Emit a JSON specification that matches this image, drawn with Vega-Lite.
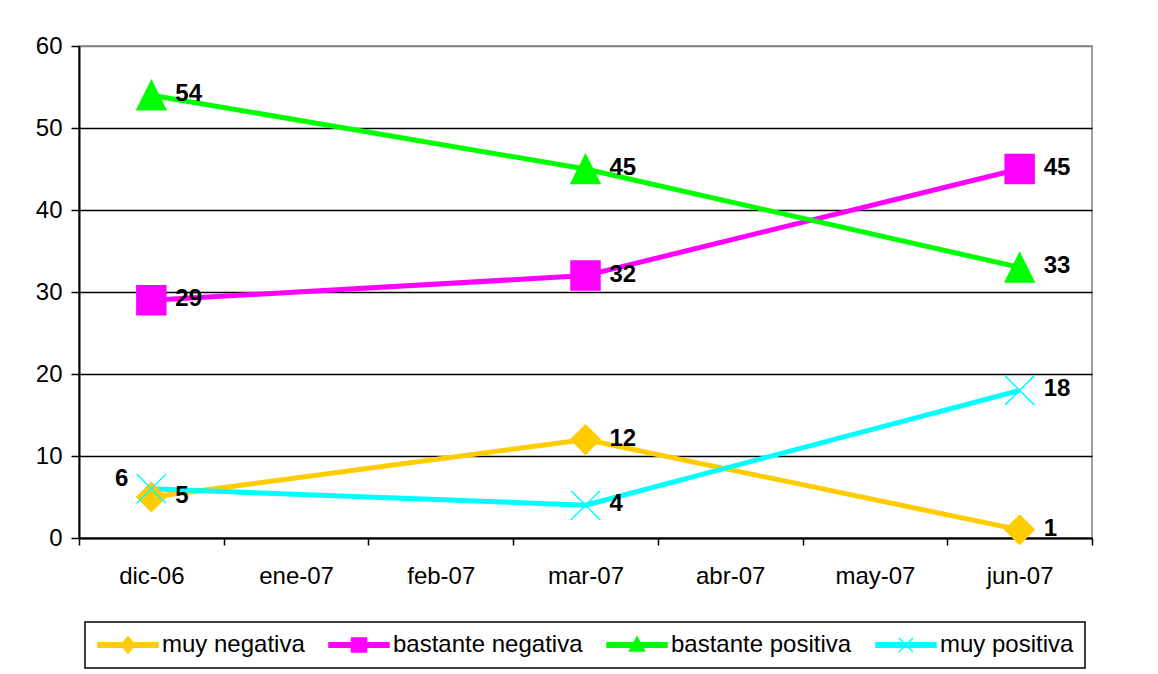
{
  "$schema": "https://vega.github.io/schema/vega-lite/v6.json",
  "autosize": {"type": "none"},
  "width": 1013,
  "height": 492,
  "padding": {"left": 79, "top": 46, "right": 66, "bottom": 136},
  "background": "white",
  "config": {
    "font": "Liberation Sans",
    "view": {"stroke": "#808080", "strokeWidth": 1.5}
  },
  "data": {
    "values": [
      {"month": "dic-06", "series": "muy negativa", "value": 5},
      {"month": "mar-07", "series": "muy negativa", "value": 12},
      {"month": "jun-07", "series": "muy negativa", "value": 1},
      {"month": "dic-06", "series": "bastante negativa", "value": 29},
      {"month": "mar-07", "series": "bastante negativa", "value": 32},
      {"month": "jun-07", "series": "bastante negativa", "value": 45},
      {"month": "dic-06", "series": "bastante positiva", "value": 54},
      {"month": "mar-07", "series": "bastante positiva", "value": 45},
      {"month": "jun-07", "series": "bastante positiva", "value": 33},
      {"month": "dic-06", "series": "muy positiva", "value": 6},
      {"month": "mar-07", "series": "muy positiva", "value": 4},
      {"month": "jun-07", "series": "muy positiva", "value": 18}
    ]
  },
  "encoding": {
    "x": {
      "field": "month",
      "type": "ordinal",
      "sort": null,
      "scale": {
        "type": "band",
        "domain": ["dic-06", "ene-07", "feb-07", "mar-07", "abr-07", "may-07", "jun-07"],
        "paddingInner": 0,
        "paddingOuter": 0
      },
      "axis": {
        "title": null,
        "labelAngle": 0,
        "tickBand": "extent",
        "domainColor": "black",
        "domainWidth": 2,
        "tickColor": "black",
        "tickWidth": 1.5,
        "tickSize": 7,
        "labelFontSize": 24,
        "labelColor": "black",
        "labelPadding": 19,
        "grid": false
      }
    },
    "y": {
      "field": "value",
      "type": "quantitative",
      "scale": {"domain": [0, 60], "nice": false, "zero": true},
      "axis": {
        "title": null,
        "values": [0, 10, 20, 30, 40, 50, 60],
        "grid": true,
        "gridColor": {"condition": {"test": "datum.value === 60", "value": "#808080"}, "value": "black"},
        "gridWidth": 1.5,
        "gridOpacity": 1,
        "domainColor": "black",
        "domainWidth": 2,
        "tickColor": "black",
        "tickWidth": 1.5,
        "tickSize": 8,
        "labelFontSize": 24,
        "labelColor": "black",
        "labelPadding": 9
      }
    }
  },
  "layer": [
    {
      "mark": {"type": "line", "strokeWidth": 5},
      "encoding": {
        "color": {
          "field": "series",
          "type": "nominal",
          "scale": {
            "domain": ["muy negativa", "bastante negativa", "bastante positiva", "muy positiva"],
            "range": ["#FFCC00", "#FF00FF", "#00FF00", "#00FFFF"]
          },
          "legend": {
            "title": null,
            "orient": "none",
            "legendX": 6,
            "legendY": 576,
            "direction": "horizontal",
            "columns": 4,
            "strokeColor": "black",
            "fillColor": "white",
            "padding": 11,
            "labelFontSize": 24,
            "labelColor": "black",
            "labelLimit": 400,
            "symbolSize": 400,
            "symbolOffset": 20,
            "labelOffset": 22,
            "columnPadding": 21,
            "symbolOpacity": 1,
            "encode": {
              "legend": {"update": {"strokeWidth": {"value": 1.5}}},
              "symbols": {
                "update": {
                  "shape": {"signal": "datum.value === 'muy negativa' ? 'M-3,-0.23H-0.5L0,-0.8L0.5,-0.23H3V0.23H0.5L0,0.8L-0.5,0.23H-3Z' : datum.value === 'bastante negativa' ? 'M-3,-0.23H-0.75V-0.7H0.75V-0.23H3V0.23H0.75V0.7H-0.75V0.23H-3Z' : datum.value === 'bastante positiva' ? 'M-3,-0.23H-0.305L0,-0.8L0.305,-0.23H3V0.23H0.552L0.75,0.6H-0.75L-0.552,0.23H-3Z' : 'M-3,-0.23H3V0.23H-3Z M-0.7,-0.7L0.7,0.7M-0.7,0.7L0.7,-0.7'"},
                  "fill": {"signal": "scale('color', datum.value)"},
                  "stroke": {"signal": "scale('color', datum.value)"},
                  "strokeWidth": {"value": 1.5},
                  "size": {"value": 400},
                  "opacity": {"value": 1},
                  "fillOpacity": {"value": 1}
                }
              }
            }
          }
        },
        "order": {"value": null}
      }
    },
    {
      "mark": {"type": "point", "filled": true, "size": 841, "opacity": 1, "strokeWidth": 1.5},
      "encoding": {
        "color": {
          "field": "series",
          "type": "nominal",
          "scale": {
            "domain": ["muy negativa", "bastante negativa", "bastante positiva", "muy positiva"],
            "range": ["#FFCC00", "#FF00FF", "#00FF00", "#00FFFF"]
          }
        },
        "stroke": {
          "condition": [
            {"test": "datum.series === 'muy negativa'", "value": "#FFCC00"},
            {"test": "datum.series === 'bastante negativa'", "value": "#FF00FF"},
            {"test": "datum.series === 'bastante positiva'", "value": "#00FF00"}
          ],
          "value": "#00FFFF"
        },
        "shape": {
          "condition": [
            {"test": "datum.series === 'muy negativa'", "value": "diamond"},
            {"test": "datum.series === 'bastante negativa'", "value": "square"},
            {"test": "datum.series === 'bastante positiva'", "value": "M0,-1L1,1L-1,1Z"}
          ],
          "value": "M-1,-1L1,1M-1,1L1,-1"
        }
      }
    },
    {
      "transform": [{"filter": "!(datum.series === 'muy positiva' && datum.month === 'dic-06')"}],
      "mark": {"type": "text", "align": "left", "baseline": "middle", "dx": 24, "dy": -1, "fontSize": 24, "fontWeight": "bold", "color": "black"},
      "encoding": {"text": {"field": "value", "type": "quantitative"}}
    },
    {
      "transform": [{"filter": "datum.series === 'muy positiva' && datum.month === 'dic-06'"}],
      "mark": {"type": "text", "align": "right", "baseline": "middle", "dx": -23, "dy": -10, "fontSize": 24, "fontWeight": "bold", "color": "black"},
      "encoding": {"text": {"field": "value", "type": "quantitative"}}
    }
  ]
}
